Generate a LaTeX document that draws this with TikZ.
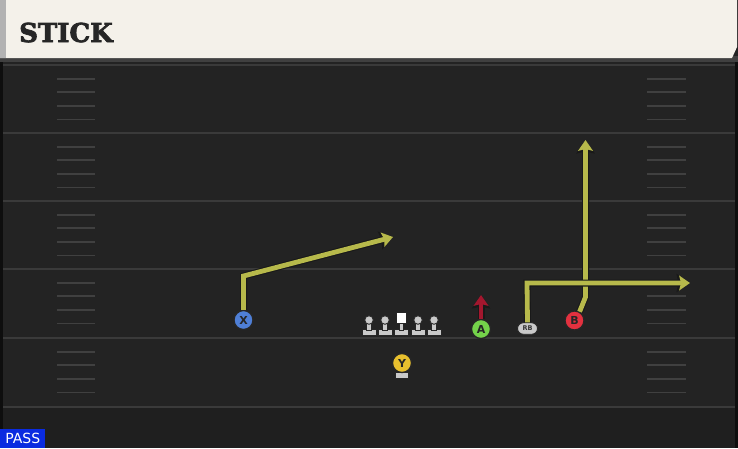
\documentclass[tikz,border=0pt]{standalone}
\usepackage{fontspec}
\setmainfont{DejaVu Sans}
\newfontfamily\titlefont[FakeBold=3]{DejaVu Serif Bold}
\usetikzlibrary{arrows.meta,shapes.misc}
\definecolor{fieldbg}{HTML}{232323}
\definecolor{fieldbot}{HTML}{1F1F1F}
\definecolor{headerbg}{HTML}{F4F1EA}
\definecolor{fieldline}{HTML}{3A3A3A}
\definecolor{hashc}{HTML}{404040}
\definecolor{routey}{HTML}{B7B94B}
\definecolor{routered}{HTML}{A3172E}
\definecolor{xblue}{HTML}{4F7FD6}
\definecolor{bred}{HTML}{E2313F}
\definecolor{agreen}{HTML}{74D24A}
\definecolor{yyellow}{HTML}{E8C02E}
\definecolor{linec}{HTML}{C9C9C9}
\definecolor{passblue}{HTML}{0A2BE0}
\tikzset{
  fline/.style={draw=fieldline, line width=2pt},
  hash/.style={draw=hashc, line width=1.8pt},
  player/.style={circle, minimum size=19pt, inner sep=0pt, draw=black!85, line width=1.3pt,
    font=\bfseries\fontsize{11}{11}\selectfont, text=black!85},
  route/.style={draw=routey, line width=4.8pt, line join=miter,
    preaction={draw=black!90, line width=7pt, line join=miter},
    -{Stealth[length=5pt 1.2, width=7pt 1.6, inset=1.8pt]}},
  redroute/.style={route, draw=routered},
  lman/.style={fill=linec, draw=black!85, line width=0.9pt},
}
\begin{document}
\begin{tikzpicture}[x=1pt,y=-1pt]
\useasboundingbox (0,0) rectangle (738,448);
\fill[fieldbg] (0,0) rectangle (738,448);
\fill[fieldbot] (3,408) rectangle (735,448);
% side edges
\fill[black!60!fieldbg] (0,62) rectangle (3,448);
\fill[black!60!fieldbg] (735,62) rectangle (738,448);
% header
\fill[black!75] (0,56) rectangle (738,62);
\fill[headerbg] (0,0) -- (737,0) -- (737,47) -- (732,58) -- (0,58) -- cycle;
\fill[black!30] (0,0) rectangle (6,58);
\node[anchor=base west, inner sep=0pt, font=\titlefont\fontsize{26}{26}\selectfont, text=black!85] (title) at (19,42) {STICK};
% field lines
\foreach \y in {65,133,201,269,338,407} {\draw[fline] (3,\y) -- (735,\y);}
% hash marks
\foreach \b in {65,133,201,269,338} {
  \foreach \k in {1,2,3,4} {
    \draw[hash] (57,{\b+\k*13.6}) -- (95,{\b+\k*13.6});
    \draw[hash] (647,{\b+\k*13.6}) -- (686,{\b+\k*13.6});
  }
}
% linemen
\foreach \x in {369,385,418,434} {
  \fill[lman] (\x-7,329.5) rectangle (\x+7,335.5);
  \fill[lman] (\x-2.4,322) rectangle (\x+2.4,330);
  \fill[lman] (\x,320) circle (4.3pt);
}
\fill[lman] (394.5,329.5) rectangle (408.5,335.5);
\fill[lman] (399.1,322) rectangle (403.9,330);
\fill[white, draw=black!85, line width=0.9pt] (396.5,312.5) rectangle (406.5,323);
% Y stand
\fill[lman] (395,372) rectangle (408,378);
% players
\node[player, fill=xblue] (X) at (243.5,320) {X};
\node[player, fill=bred] (B) at (574.5,320.5) {B};
\node[player, fill=agreen] (A) at (481,329) {A};
\node[player, fill=yyellow] (Y) at (402,363) {Y};
\node[rounded rectangle, fill=linec, draw=black!85, line width=0.9pt, minimum width=20pt,
  minimum height=11.5pt, inner sep=0pt, font=\bfseries\fontsize{6.5}{6.5}\selectfont, text=black!80] (RB) at (527.5,328.5) {RB};
% routes
\coordinate (Xc) at (243.5,276);
\coordinate (Xe) at (393,237);
\draw[route] (X.north) -- (Xc) -- (Xe);
\coordinate (Bk) at (585.5,297);
\coordinate (Be) at (585.5,140);
\draw[route] (B.60) -- (Bk) -- (Be);
\coordinate (RBc) at (527,283);
\coordinate (RBe) at (690,283);
\draw[route] (RB.north) -- (RBc) -- (RBe);
\coordinate (Ae) at (481,295);
\draw[redroute] (A.north) -- (Ae);
% pass label
\node[fill=passblue, text=white, anchor=south west, minimum width=45pt, minimum height=19pt,
  inner sep=0pt, font=\fontsize{14}{14}\selectfont] (pass) at (0,448) {PASS};
\end{tikzpicture}
\end{document}
